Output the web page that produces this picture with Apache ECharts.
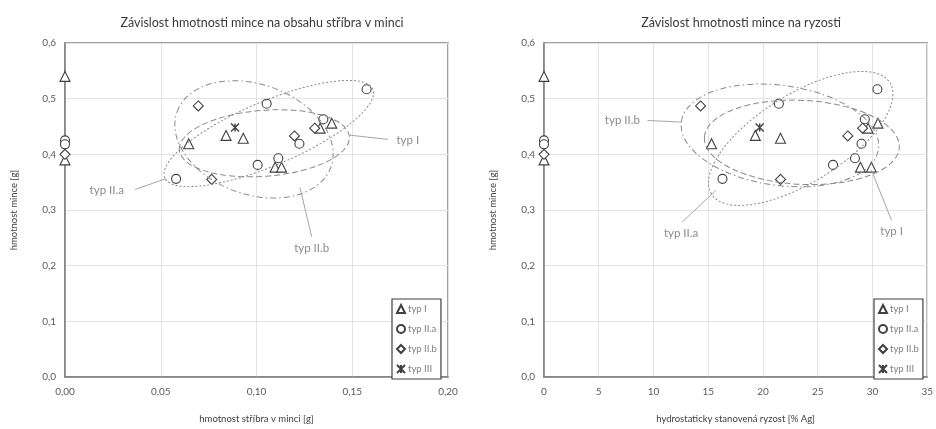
<!DOCTYPE html>
<html><head><meta charset="utf-8">
<script src="https://cdn.jsdelivr.net/npm/echarts@6/dist/echarts.min.js"></script>
<style>html,body{margin:0;padding:0;background:#fff}#c{width:936px;height:429px}</style>
</head><body><div id="c"></div>
<script>
// ---- data ----
const seriesNames = ['typ I', 'typ II.a', 'typ II.b', 'typ III'];
const leftTitle = 'Závislost hmotnosti mince na obsahu stříbra v minci';
const rightTitle = 'Závislost hmotnosti mince na ryzosti';
const yName = 'hmotnost mince [g]';
const leftXName = 'hmotnost stříbra v minci [g]';
const rightXName = 'hydrostaticky stanovená ryzost [% Ag]';

// typ I
const typI_silver   = [0, 0, 0.0646, 0.0841, 0.0931, 0.1097, 0.1131, 0.1332, 0.1393];
const typI_fineness = [0, 0, 15.3, 19.3, 21.6, 28.9, 29.9, 29.6, 30.5];
const typI_mass     = [0.540, 0.390, 0.419, 0.434, 0.429, 0.377, 0.377, 0.447, 0.456];
// typ II.a
const typIIa_silver   = [0, 0, 0.0580, 0.1006, 0.1053, 0.1114, 0.1224, 0.1349, 0.1575];
const typIIa_fineness = [0, 0, 16.3, 26.4, 21.45, 28.4, 29.0, 29.3, 30.45];
const typIIa_mass     = [0.425, 0.418, 0.356, 0.381, 0.491, 0.393, 0.419, 0.463, 0.517];
// typ II.b
const typIIb_silver   = [0, 0.0696, 0.0766, 0.1198, 0.1304];
const typIIb_fineness = [0, 14.3, 21.6, 27.75, 29.1];
const typIIb_mass     = [0.400, 0.487, 0.355, 0.433, 0.447];
// typ III
const typIII_silver   = [0.0888];
const typIII_fineness = [19.7];
const typIII_mass     = [0.448];

// group outlines (centre, end of major axis in data units; minor semi-axis in px)
const leftGroups = [
  {name: 'typ II.a', c: [0.1064, 0.4374], e: [0.1607, 0.5168], ry: 32, dash: [2, 2]},
  {name: 'typ I',    c: [0.1041, 0.4198], e: [0.1485, 0.4316], ry: 33, dash: [6, 3]},
  {name: 'typ II.b', c: [0.0987, 0.4268], e: [0.1389, 0.3774], ry: 55, dash: [6, 3, 1.5, 3]}
];
const rightGroups = [
  {name: 'typ II.a', c: [23.45, 0.4286], e: [31.6, 0.5285], ry: 44, dash: [2, 2]},
  {name: 'typ I',    c: [23.55, 0.4215], e: [32.45, 0.4125], ry: 42, dash: [6, 3]},
  {name: 'typ II.b', c: [21.55, 0.434],  e: [30.55, 0.4094], ry: 50, dash: [6, 3, 1.5, 3]}
];
// callout labels: text position and leader line (data units)
const leftCallouts = [
  {text: 'typ II.a', t: [0.0218, 0.3345], a: [0.0366, 0.3369], b: [0.0527, 0.3563]},
  {text: 'typ I',    t: [0.1790, 0.4256], a: [0.1687, 0.4268], b: [0.1488, 0.4344]},
  {text: 'typ II.b', t: [0.1288, 0.2316], a: [0.1288, 0.2522], b: [0.1227, 0.3404]}
];
const rightCallouts = [
  {text: 'typ II.b', t: [7.16, 0.4608],  a: [9.45, 0.4608], b: [12.52, 0.458]},
  {text: 'typ II.a', t: [12.52, 0.258],  a: [12.64, 0.2787], b: [15.7, 0.335]},
  {text: 'typ I',    t: [31.75, 0.261],  a: [31.73, 0.282], b: [29.9, 0.372]}
];

// ---- chart ----
const FONT = 'Lato, "Open Sans", sans-serif';
const INK = '#404040';
const starPath = 'path://M0,0L10,10M10,0L0,10M5,0L5,10';
const symbols = ['triangle', 'circle', 'diamond', starPath];
const sizes = [10, 9, 10, 8];

function zip(xs, ys) { return xs.map((x, i) => [x, ys[i]]); }
const leftData = [zip(typI_silver, typI_mass), zip(typIIa_silver, typIIa_mass), zip(typIIb_silver, typIIb_mass), zip(typIII_silver, typIII_mass)];
const rightData = [zip(typI_fineness, typI_mass), zip(typIIa_fineness, typIIa_mass), zip(typIIb_fineness, typIIb_mass), zip(typIII_fineness, typIII_mass)];

const series = [];
[leftData, rightData].forEach((set, gi) => {
  set.forEach((d, i) => {
    series.push({
      type: 'scatter', name: seriesNames[i], xAxisIndex: gi, yAxisIndex: gi,
      data: d, symbol: symbols[i], symbolSize: sizes[i],
      itemStyle: {color: i === 3 ? 'rgba(0,0,0,0)' : '#ffffff', borderColor: INK, borderWidth: i === 3 ? 1.4 : 1.1, opacity: 1},
      emphasis: {disabled: true}, z: 3
    });
  });
});

function yAxis(gi) {
  return {
    type: 'value', gridIndex: gi, min: 0, max: 0.6, interval: 0.1,
    name: yName, nameLocation: 'middle', nameGap: 46, nameRotate: 90,
    nameTextStyle: {fontFamily: FONT, fontSize: 9.5, color: INK},
    axisLine: {show: true, lineStyle: {color: '#808080', width: 1.5}},
    axisTick: {show: false},
    axisLabel: {fontFamily: FONT, fontSize: 10, color: '#595959', margin: 9,
      formatter: v => v.toFixed(1).replace('.', ',')},
    splitLine: {show: true, lineStyle: {color: '#e3e3e3', width: 1}}
  };
}
const legendBase = {
  orient: 'vertical', top: 299, padding: [4, 4, 4, 4], itemGap: 8,
  itemWidth: 8, itemHeight: 8, borderColor: INK, borderWidth: 1.2,
  backgroundColor: '#fff', selectedMode: false,
  textStyle: {fontFamily: FONT, fontSize: 9.5, color: '#7f7f7f', lineHeight: 12, padding: [0, 0, 0, -2]},
  data: seriesNames
};

const chart = echarts.init(document.getElementById('c'), null, {renderer: 'canvas'});
chart.setOption({
  animation: false,
  backgroundColor: '#fff',
  title: [
    {text: leftTitle, left: 257, top: 11, textAlign: 'center',
      textStyle: {fontFamily: FONT, fontSize: 12.5, fontWeight: 'normal', color: '#3a3a3a'}},
    {text: rightTitle, left: 736, top: 11, textAlign: 'center',
      textStyle: {fontFamily: FONT, fontSize: 12.5, fontWeight: 'normal', color: '#3a3a3a'}}
  ],
  grid: [
    {left: 65, top: 43, width: 383, height: 340, show: true, borderColor: '#808080', borderWidth: 1.5, backgroundColor: 'transparent'},
    {left: 544, top: 43, width: 385, height: 340, show: true, borderColor: '#808080', borderWidth: 1.5, backgroundColor: 'transparent'}
  ],
  xAxis: [
    {type: 'value', gridIndex: 0, min: 0, max: 0.2, interval: 0.05,
      name: leftXName, nameLocation: 'middle', nameGap: 37,
      nameTextStyle: {fontFamily: FONT, fontSize: 9.5, color: INK},
      axisLine: {show: true, lineStyle: {color: '#808080', width: 1.5}},
      axisTick: {show: false},
      axisLabel: {fontFamily: FONT, fontSize: 10, color: '#595959', margin: 10,
        formatter: v => v.toFixed(2).replace('.', ',')},
      splitLine: {show: true, lineStyle: {color: '#e3e3e3', width: 1}}},
    {type: 'value', gridIndex: 1, min: 0, max: 35, interval: 5,
      name: rightXName, nameLocation: 'middle', nameGap: 37,
      nameTextStyle: {fontFamily: FONT, fontSize: 9.5, color: INK},
      axisLine: {show: true, lineStyle: {color: '#808080', width: 1.5}},
      axisTick: {show: false},
      axisLabel: {fontFamily: FONT, fontSize: 10, color: '#595959', margin: 10},
      splitLine: {show: true, lineStyle: {color: '#e3e3e3', width: 1}}}
  ],
  yAxis: [yAxis(0), yAxis(1)],
  legend: [
    Object.assign({}, legendBase, {left: 392}),
    Object.assign({}, legendBase, {left: 874})
  ],
  series: series
});

function buildGraphics() {
  const els = [];
  [[leftGroups, leftCallouts], [rightGroups, rightCallouts]].forEach(([groups, callouts], gi) => {
    const P = p => chart.convertToPixel({gridIndex: gi}, p);
    groups.forEach(g => {
      const c = P(g.c), e = P(g.e);
      const dx = e[0] - c[0], dy = e[1] - c[1];
      els.push({
        type: 'ellipse', x: c[0], y: c[1], rotation: Math.atan2(-dy, dx),
        shape: {cx: 0, cy: 0, rx: Math.sqrt(dx * dx + dy * dy), ry: g.ry},
        style: {fill: null, stroke: '#8a8a8a', lineWidth: 1, lineDash: g.dash},
        silent: true, z: 5
      });
    });
    callouts.forEach(k => {
      const t = P(k.t), a = P(k.a), b = P(k.b);
      els.push({type: 'line', shape: {x1: a[0], y1: a[1], x2: b[0], y2: b[1]},
        style: {stroke: '#a6a6a6', lineWidth: 1}, silent: true, z: 5});
      els.push({type: 'text', x: t[0], y: t[1],
        style: {text: k.text, fill: '#8c8c8c', font: '11.5px ' + FONT, align: 'center', verticalAlign: 'middle',
          textAlign: 'center', textVerticalAlign: 'middle'}, silent: true, z: 5});
    });
  });
  chart.setOption({graphic: {elements: els}});
}
buildGraphics();
</script>
</body></html>
